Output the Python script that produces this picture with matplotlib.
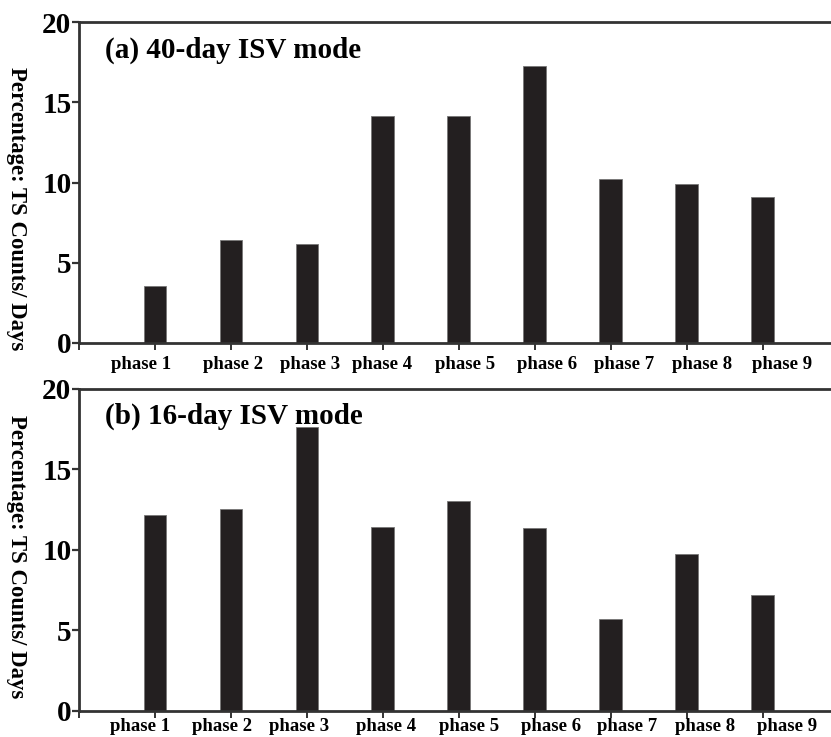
import matplotlib
matplotlib.use("Agg")
import matplotlib.pyplot as plt
import numpy as np

phases = ['phase 1', 'phase 2', 'phase 3', 'phase 4', 'phase 5',
          'phase 6', 'phase 7', 'phase 8', 'phase 9']
mode40 = [3.55, 6.42, 6.15, 14.12, 14.12, 17.28, 10.22, 9.89, 9.12]
mode16 = [12.17, 12.53, 17.64, 11.41, 13.04, 11.37, 5.69, 9.71, 7.17]
titles = ['(a) 40-day ISV mode', '(b) 16-day ISV mode']

# label shifts (data units) - labels in the original are not centred on ticks
label_shift = [
    [-0.18, 0.03, 0.04, -0.01, 0.08, 0.16, 0.18, 0.20, 0.26],
    [-0.20, -0.12, -0.10, 0.04, 0.13, 0.21, 0.22, 0.24, 0.32],
]
label_pad = [9.5, 5]
ylabel_y = [0.42, 0.48]

plt.rcParams['font.family'] = ['Liberation Serif', 'DejaVu Serif']
plt.rcParams['font.weight'] = 'bold'

fig = plt.figure(figsize=(8.31, 7.37), dpi=100)
ax_pos = [[0.0951, 0.5346, 0.9049, 0.4355],
          [0.0951, 0.0357, 0.9049, 0.4369]]

x = np.arange(1, len(phases) + 1)
for i, vals in enumerate([mode40, mode16]):
    ax = fig.add_axes(ax_pos[i])
    ax.bar(x, vals, width=0.3, color='#231f20', edgecolor='#777777', linewidth=0.6)
    ax.set_xlim(0, 9.9)
    ax.set_ylim(0, 20)
    ax.set_yticks([0, 5, 10, 15, 20])
    ax.tick_params(axis='y', which='major', direction='out', length=5, width=1.6,
                   pad=0.5, labelsize=21, color='#333333')
    # tick marks at integer positions, labels on minor ticks
    ax.set_xticks(np.arange(0, 10))
    ax.set_xticklabels([])
    ax.set_xticks(x + np.array(label_shift[i]), minor=True)
    ax.set_xticklabels(phases, minor=True)
    ax.tick_params(axis='x', which='major', direction='out', length=5, width=1.4,
                   color='#333333')
    ax.tick_params(axis='x', which='minor', length=0, pad=label_pad[i], labelsize=13.5)
    for s in ['left', 'bottom', 'top']:
        ax.spines[s].set_linewidth(2)
        ax.spines[s].set_color('#333333')
    ax.spines['right'].set_visible(False)
    for lab in ax.get_xticklabels(minor=True) + ax.get_yticklabels():
        lab.set_fontweight('bold')
    ax.text(0.034, 0.913, titles[i], transform=ax.transAxes, fontsize=21,
            fontweight='bold', ha='left', va='center')
    ax.set_ylabel('Percentage: TS Counts/ Days', rotation=270, fontsize=16.4,
                  fontweight='bold', labelpad=0)
    ax.yaxis.set_label_coords(-0.083, ylabel_y[i])
    ax.yaxis.label.set_va('center')

fig.savefig('out.png', dpi=100)
